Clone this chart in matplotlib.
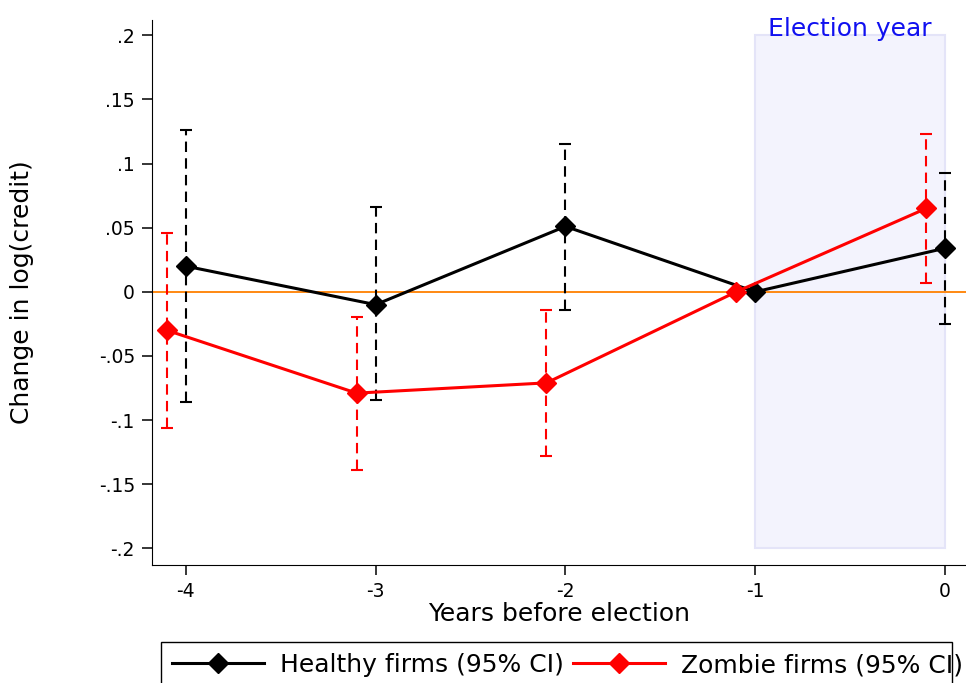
import matplotlib.pyplot as plt
from matplotlib.patches import Rectangle
from matplotlib.lines import Line2D

# event-time estimates, years relative to the election
years = [-4, -3, -2, -1, 0]
healthy = [0.020, -0.010, 0.051, 0.000, 0.034]
healthy_lo = [-0.086, -0.084, -0.014, 0.000, -0.025]
healthy_hi = [0.126, 0.066, 0.115, 0.000, 0.093]

zombie = [-0.030, -0.079, -0.071, 0.000, 0.065]
zombie_lo = [-0.106, -0.139, -0.128, 0.000, 0.007]
zombie_hi = [0.046, -0.020, -0.014, 0.000, 0.123]

yticks = [0.2, 0.15, 0.1, 0.05, 0, -0.05, -0.1, -0.15, -0.2]
ytick_labels = [".2", ".15", ".1", ".05", "0", "-.05", "-.1", "-.15", "-.2"]

shift = 0.1  # zombie series drawn slightly to the left

fig = plt.figure(figsize=(9.66, 6.83), dpi=100)
ax = fig.add_axes([0.157, 0.1728, 0.843, 0.798])

# shaded election-year window
ax.add_patch(Rectangle((-1, -0.2), 1, 0.4, facecolor="#f3f3fd",
                       edgecolor="#e4e4f8", lw=1.5, zorder=0))
ax.text(-0.5, 0.1995, "Election year", color="#1010f0", fontsize=18,
        ha="center", va="baseline")

ax.axhline(0, color="#ff8000", lw=1.3, zorder=1)


def draw_series(xs, ys, lo, hi, color):
    # confidence intervals only where an interval exists
    ex, ey, elo, ehi = [], [], [], []
    for x, y, l, h in zip(xs, ys, lo, hi):
        if h - l > 0:
            ex.append(x)
            ey.append(y)
            elo.append(y - l)
            ehi.append(h - y)
    eb = ax.errorbar(ex, ey, yerr=[elo, ehi], fmt="none", ecolor=color,
                     elinewidth=1.5, capsize=4.3, capthick=1.5, zorder=2)
    eb[2][0].set_linestyle((0, (5, 3)))
    ax.plot(xs, ys, color=color, lw=2.2, marker="D", markersize=10,
            zorder=3)


draw_series(years, healthy, healthy_lo, healthy_hi, "black")
draw_series([y - shift for y in years], zombie, zombie_lo, zombie_hi,
            "#ff0000")

ax.set_xlim(-4.18, 0.11)
ax.set_ylim(-0.213, 0.212)
ax.set_xticks(years)
ax.set_xticklabels([str(y) for y in years])
ax.set_yticks(yticks)
ax.set_yticklabels(ytick_labels)
ax.tick_params(labelsize=13.5, length=7, width=1.1, pad=5)
ax.spines["top"].set_visible(False)
ax.spines["right"].set_visible(False)
ax.set_xlabel("Years before election", fontsize=18, labelpad=1)
ax.set_ylabel("Change in log(credit)", fontsize=18)
ax.yaxis.set_label_coords(-0.145, 0.5)

# legend box below the plot
fig.patches.append(Rectangle((161 / 966, -0.05), (952 - 161) / 966,
                             1 - 642 / 683 + 0.05, transform=fig.transFigure,
                             facecolor="none", edgecolor="black", lw=1))
handles = [
    Line2D([], [], color="black", lw=2.2, marker="D", markersize=10),
    Line2D([], [], color="#ff0000", lw=2.2, marker="D", markersize=10),
]
fig.legend(handles, ["Healthy firms (95% CI)", "Zombie firms (95% CI)"],
           loc="center left", bbox_to_anchor=(172 / 966, 1 - 665 / 683),
           ncol=2, frameon=False, fontsize=18, handlelength=3.68,
           handletextpad=0.64, columnspacing=0.36, borderpad=0,
           borderaxespad=0)

fig.savefig("out.png", dpi=100)
